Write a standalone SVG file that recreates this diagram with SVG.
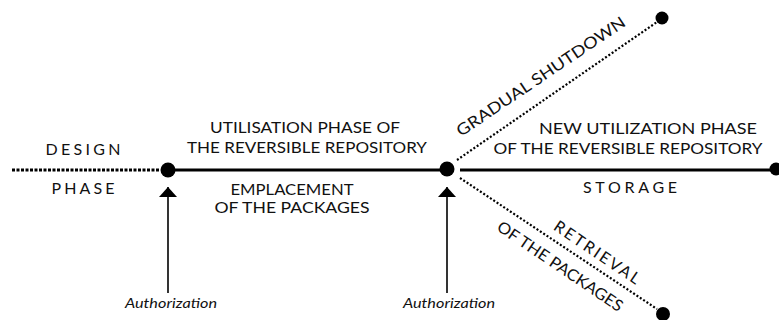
<svg xmlns="http://www.w3.org/2000/svg" width="779" height="320" viewBox="0 0 779 320">
<style>
.t{font-family:Lato,"Open Sans","Liberation Sans",sans-serif;font-size:16px;fill:#111;text-anchor:middle}
.a{font-family:Lato,"Open Sans","Liberation Sans",sans-serif;font-size:13px;font-style:italic;fill:#111;text-anchor:middle}
.solid{stroke:#000;stroke-width:3;fill:none}
.dots{stroke:#000;stroke-width:2.2;stroke-dasharray:2 2;fill:none}
.ldots{stroke:#000;stroke-width:3;stroke-dasharray:3 1.5;fill:none}
.thin{stroke:#000;stroke-width:1.6;fill:none}
</style>
<defs>
<marker id="ah" viewBox="0 0 10 18" refX="10" refY="9" markerWidth="10" markerHeight="18" markerUnits="userSpaceOnUse" orient="auto">
<path d="M0,0 L10,9 L0,18 z" fill="#000"/>
</marker>
</defs>
<rect width="779" height="320" fill="#fff"/>
<g id="connectors">
<line class="ldots" x1="12" y1="170" x2="160" y2="170"/>
<line class="solid" x1="168" y1="170" x2="447" y2="170"/>
<line class="solid" x1="460" y1="170" x2="775" y2="170"/>
<line class="dots" x1="457" y1="160" x2="657" y2="22"/>
<line class="dots" x1="460" y1="178" x2="657" y2="309"/>
<line class="thin" x1="168" y1="293" x2="168" y2="187" marker-end="url(#ah)"/>
<line class="thin" x1="447" y1="293" x2="447" y2="187" marker-end="url(#ah)"/>
</g>
<g id="node-start">
<circle cx="168" cy="170" r="7.5" fill="#000"/>
</g>
<g id="node-mid">
<circle cx="447" cy="169" r="7.5" fill="#000"/>
</g>
<g id="node-end-right">
<circle cx="776" cy="169" r="6.5" fill="#000"/>
</g>
<g id="node-end-top">
<circle cx="662" cy="18" r="6.5" fill="#000"/>
</g>
<g id="node-end-bottom">
<circle cx="663" cy="314" r="7" fill="#000"/>
</g>
<g id="labels">
<text class="t" x="83" y="155" textLength="75" lengthAdjust="spacing">DESIGN</text>
<text class="t" x="83" y="194" textLength="63" lengthAdjust="spacing">PHASE</text>
<text class="t" x="305" y="133" textLength="190" lengthAdjust="spacingAndGlyphs">UTILISATION PHASE OF</text>
<text class="t" x="307" y="153" textLength="240" lengthAdjust="spacingAndGlyphs">THE REVERSIBLE REPOSITORY</text>
<text class="t" x="292" y="195" textLength="123" lengthAdjust="spacingAndGlyphs">EMPLACEMENT</text>
<text class="t" x="292" y="213" textLength="155" lengthAdjust="spacingAndGlyphs">OF THE PACKAGES</text>
<text class="t" x="648" y="134" textLength="218" lengthAdjust="spacingAndGlyphs">NEW UTILIZATION PHASE</text>
<text class="t" x="628" y="154" textLength="269" lengthAdjust="spacingAndGlyphs">OF THE REVERSIBLE REPOSITORY</text>
<text class="t" x="630" y="193" textLength="94" lengthAdjust="spacing">STORAGE</text>
<text class="t" transform="translate(544,81) rotate(-34)" x="0" y="0" textLength="200" lengthAdjust="spacingAndGlyphs">GRADUAL SHUTDOWN</text>
<text class="t" transform="translate(594,257) rotate(34)" x="0" y="0" textLength="100" lengthAdjust="spacing">RETRIEVAL</text>
<text class="t" transform="translate(557,271) rotate(34)" x="0" y="0" textLength="148" lengthAdjust="spacingAndGlyphs">OF THE PACKAGES</text>
<text class="a" x="171" y="308" textLength="92" lengthAdjust="spacingAndGlyphs">Authorization</text>
<text class="a" x="449" y="308" textLength="92" lengthAdjust="spacingAndGlyphs">Authorization</text>
</g>
</svg>
